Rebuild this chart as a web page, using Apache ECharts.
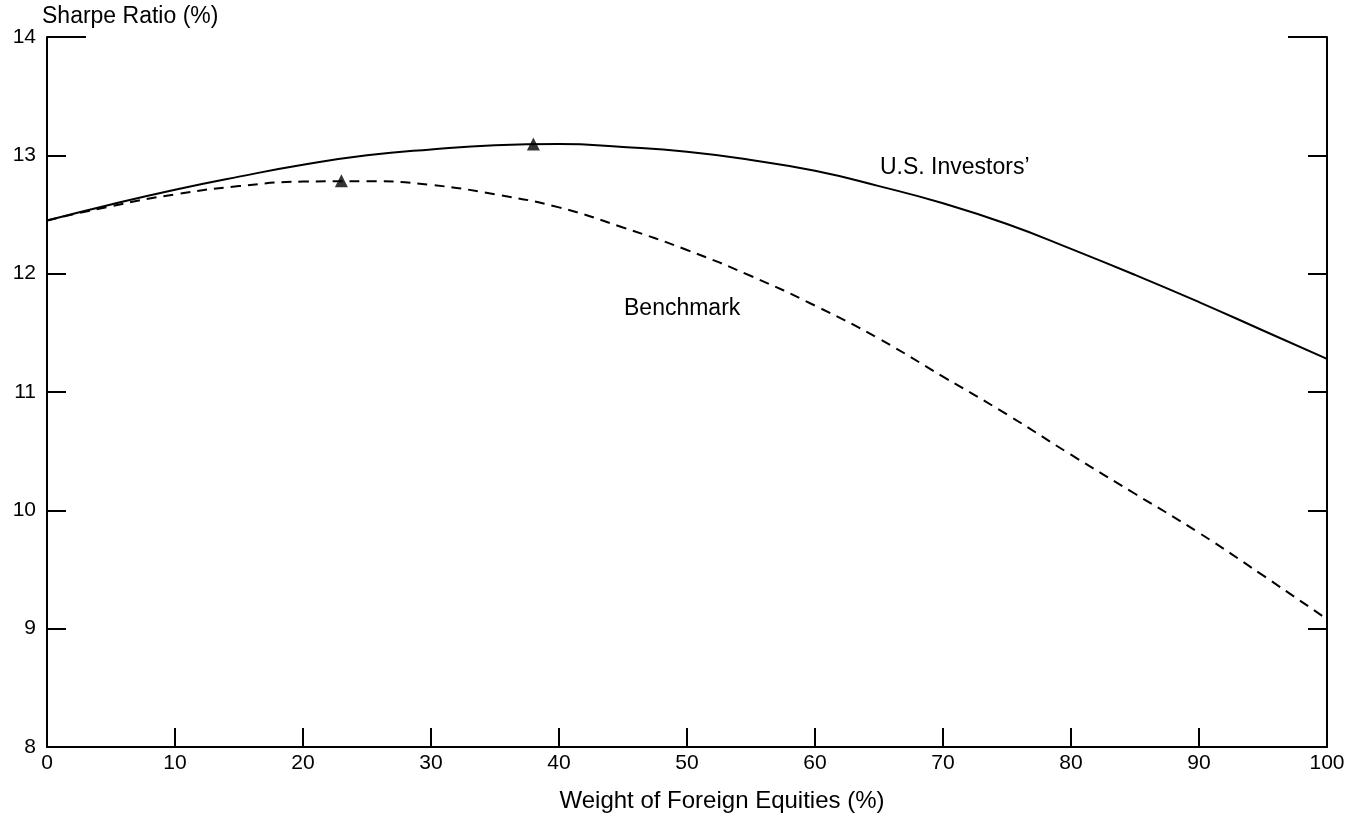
<!DOCTYPE html>
<html>
<head>
<meta charset="utf-8">
<script src="https://cdn.jsdelivr.net/npm/echarts@6/dist/echarts.min.js"></script>
<style>html,body{margin:0;padding:0;background:#fff}#c{width:1363px;height:814px}</style>
</head>
<body>
<div id="c"></div>
<script>
const usX = [0, 5, 10, 15, 20, 25, 30, 35, 40, 45, 50, 55, 60, 65, 70, 75, 80, 85, 90, 95, 100];
const usY = [12.45, 12.585, 12.71, 12.82, 12.92, 13.00, 13.05, 13.085, 13.095, 13.07, 13.03, 12.96, 12.87, 12.74, 12.595, 12.42, 12.21, 11.99, 11.76, 11.52, 11.28];
const bmX = [0, 5, 10, 15, 20, 25, 30, 35, 40, 45, 50, 55, 60, 65, 70, 75, 80, 85, 90, 95, 100];
const bmY = [12.45, 12.57, 12.67, 12.74, 12.778, 12.782, 12.75, 12.67, 12.56, 12.39, 12.20, 11.98, 11.73, 11.45, 11.13, 10.81, 10.47, 10.14, 9.81, 9.45, 9.08];
const peakUS = [38, 13.095];
const peakBM = [23, 12.785];
const xTicks = { min: 0, max: 100, interval: 10 };
const yTicks = { min: 8, max: 14, interval: 1 };
const seriesNames = ["U.S. Investors\u2019", "Benchmark"];
const yTitle = "Sharpe Ratio (%)";
const xTitle = "Weight of Foreign Equities (%)";

const font = "Liberation Sans, Arial, sans-serif";
const chart = echarts.init(document.getElementById('c'));
const zip = (a, b) => a.map((v, i) => [v, b[i]]);
const axisLine = { show: true, lineStyle: { color: '#000', width: 2 } };
const tick = { show: true, inside: true, length: 19, lineStyle: { color: '#000', width: 2 } };
chart.setOption({
  animation: false,
  backgroundColor: '#fff',
  grid: { left: 47, right: 36, top: 37, bottom: 67, containLabel: false, outerBoundsMode: 'none' },
  xAxis: {
    type: 'value', min: xTicks.min, max: xTicks.max, interval: xTicks.interval,
    axisLine: axisLine, axisTick: tick,
    axisLabel: { color: '#000', fontSize: 21, fontFamily: font, margin: 6 },
    splitLine: { show: false }
  },
  yAxis: [{
    type: 'value', min: yTicks.min, max: yTicks.max, interval: yTicks.interval, position: 'left',
    axisLine: axisLine, axisTick: tick,
    axisLabel: { color: '#000', fontSize: 21, fontFamily: font, margin: 11, verticalAlign: 'middle' },
    splitLine: { show: false }
  }, {
    type: 'value', min: yTicks.min, max: yTicks.max, interval: yTicks.interval, position: 'right',
    axisLine: axisLine, axisTick: tick,
    axisLabel: { show: false },
    splitLine: { show: false }
  }],
  graphic: [
    { type: 'text', x: 42, y: 17, style: { text: yTitle, fill: '#000', font: '23px ' + font, verticalAlign: 'middle' } },
    { type: 'text', x: 722, y: 801, style: { text: xTitle, fill: '#000', font: '24px ' + font, verticalAlign: 'middle', align: 'center' } },
    { type: 'text', x: 880, y: 168, style: { text: seriesNames[0], fill: '#000', font: '23px ' + font, verticalAlign: 'middle' } },
    { type: 'text', x: 624, y: 309, style: { text: seriesNames[1], fill: '#000', font: '23px ' + font, verticalAlign: 'middle' } },
    { type: 'line', shape: { x1: 47, y1: 37, x2: 86, y2: 37 }, style: { stroke: '#000', lineWidth: 2 } },
    { type: 'line', shape: { x1: 1288, y1: 37, x2: 1327, y2: 37 }, style: { stroke: '#000', lineWidth: 2 } }
  ],
  series: [
    { name: seriesNames[0], type: 'line', data: zip(usX, usY), smooth: 0.5, showSymbol: false,
      lineStyle: { color: '#000', width: 2, type: 'solid' } },
    { name: seriesNames[1], type: 'line', data: zip(bmX, bmY), smooth: 0.5, showSymbol: false,
      lineStyle: { color: '#000', width: 2, type: [10, 7] } },
    { type: 'scatter', data: [peakUS, peakBM], symbol: 'triangle', symbolSize: 13, itemStyle: { color: '#000' }, z: 5 }
  ]
});
</script>
</body>
</html>
